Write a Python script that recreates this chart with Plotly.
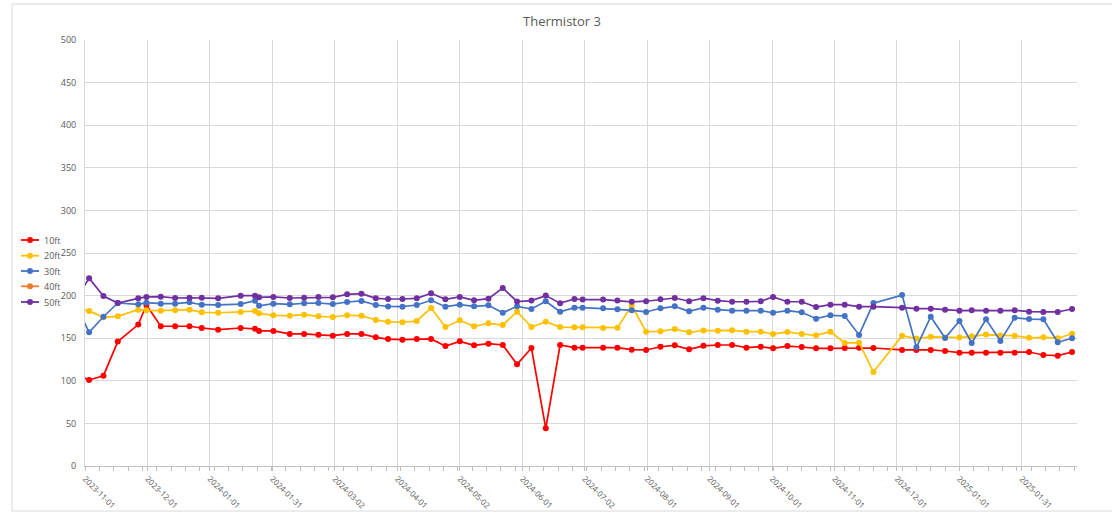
import pandas as pd
import plotly.graph_objects as go

# Sampling dates (first sample falls just before the axis start and is clipped)
dates = [
    "2023-10-27",
    "2023-11-03", "2023-11-10", "2023-11-17", "2023-11-27", "2023-12-01", "2023-12-08",
    "2023-12-15", "2023-12-22", "2023-12-28", "2024-01-05", "2024-01-16", "2024-01-23",
    "2024-01-25", "2024-02-01", "2024-02-09", "2024-02-16", "2024-02-23", "2024-03-01",
    "2024-03-08", "2024-03-15", "2024-03-22", "2024-03-28", "2024-04-04", "2024-04-11",
    "2024-04-18", "2024-04-25", "2024-05-02", "2024-05-09", "2024-05-16", "2024-05-23",
    "2024-05-30", "2024-06-06", "2024-06-13", "2024-06-20", "2024-06-27", "2024-07-01",
    "2024-07-11", "2024-07-18", "2024-07-25", "2024-08-01", "2024-08-08", "2024-08-15",
    "2024-08-22", "2024-08-29", "2024-09-05", "2024-09-12", "2024-09-19", "2024-09-26",
    "2024-10-02", "2024-10-09", "2024-10-16", "2024-10-23", "2024-10-30", "2024-11-06",
    "2024-11-13", "2024-11-20", "2024-12-04", "2024-12-11", "2024-12-18", "2024-12-25",
    "2025-01-01", "2025-01-07", "2025-01-14", "2025-01-21", "2025-01-28", "2025-02-04",
    "2025-02-11", "2025-02-18", "2025-02-25",
]

ft10 = [
    108,
    101, 106, 146, 166, 189, 164, 164, 164, 162, 160, 162, 161,
    158.5, 158.5, 155, 155, 154, 153, 155, 155, 151, 149, 148.3, 149.1,
    149.1, 140.8, 146.3, 141.6, 143.6, 142, 119.3, 138.5, 44.2, 142, 138.9, 138.9,
    138.9, 138.9, 136.5, 136.2, 140, 141.6, 137, 141, 142, 142, 138.9, 140,
    138.1, 140.8, 139.7, 138.1, 138.1, 138.5, 138.9, 138.5, 136.2, 136.2, 136.2, 135,
    133, 133, 133, 133, 133, 133.8, 130.3, 129.5, 133.8,
]

ft20 = [
    185,
    182, 174.5, 175.7, 183.5, 182.7, 182.3, 182.7, 183.5, 180.4, 179.9, 180.8, 181.9,
    179.2, 176.9, 176.4, 177.6, 175.7, 174.9, 176.9, 176.4, 171.4, 169.2, 168.7, 170.2,
    185.4, 163.1, 171, 164, 167.5, 165.5, 181.1, 163.1, 169.4, 163.1, 162.8, 162.8,
    162, 162.3, 188.1, 157.6, 158.1, 160.8, 156.9, 159, 158.8, 159.3, 157.6, 157.6,
    154.9, 157.3, 154.9, 153.4, 157.6, 144.4, 144.7, 110.3, 152.9, 149.6, 151.6, 150.8,
    150.8, 152.2, 154.3, 153.2, 153, 150.4, 151, 150, 155.2,
]

ft30 = [
    192,
    156.9, 175.2, 191.3, 189.8, 191.7, 190.5, 190.5, 192.1, 189.3, 189, 190.1, 194,
    188.1, 190.5, 189.8, 191, 191.3, 190.1, 192.5, 193.7, 189, 187.2, 187, 189,
    194.5, 187, 189.3, 187.4, 188.6, 179.9, 187.4, 184.3, 193.3, 181.1, 185.8, 185.8,
    185.1, 183.9, 182.7, 180.8, 185.1, 187.4, 181.6, 185.8, 183.5, 182.3, 182.3, 182.3,
    179.9, 182.3, 180.4, 172.9, 176.9, 176.1, 153.8, 191.2, 200.6, 139.3, 175.2, 150.2,
    170.2, 144.4, 172.2, 146.7, 174.1, 172.5, 172.2, 145.2, 149.9,
]

ft40 = [None] * len(dates)

ft50 = [
    194,
    220.3, 199.5, 191.3, 196.8, 198.4, 198.7, 197.2, 197.5, 197.5, 196.8, 199.9, 199.9,
    198, 198.4, 197.2, 197.5, 198.4, 198, 201.5, 202.2, 196.8, 196, 196, 196.8,
    202.7, 195.7, 198.4, 194.5, 196.4, 208.9, 193, 194.2, 200, 191.1, 196, 195.3,
    195.3, 194.2, 192.7, 193.4, 195.7, 197.2, 193.4, 197, 194, 192.8, 192.8, 193.3,
    198.4, 192.8, 192.8, 186.6, 189.3, 189.3, 187, 187, 185.8, 184.6, 184.6, 183.5,
    182.3, 182.7, 182.3, 182.3, 182.7, 181.1, 180.8, 180.8, 184.3,
]

series_names = ["10ft", "20ft", "30ft", "40ft", "50ft"]
series_values = [ft10, ft20, ft30, ft40, ft50]
series_colors = ["#FF0000", "#FFC000", "#4472C4", "#ED7D31", "#7030A0"]

tick_labels = [
    "2023-11-01", "2023-12-01", "2024-01-01", "2024-01-31", "2024-03-02", "2024-04-01",
    "2024-05-02", "2024-06-01", "2024-07-02", "2024-08-01", "2024-09-01", "2024-10-01",
    "2024-11-01", "2024-12-01", "2025-01-01", "2025-01-31",
]

axis_start = pd.Timestamp("2023-11-01")
axis_end = pd.Timestamp("2025-02-27 10:00")
# major unit of 30.5 days, labelled with the calendar day
tick_positions = [axis_start + pd.Timedelta(days=30.5 * k) for k in range(len(tick_labels))]

x = pd.to_datetime(dates)

fig = go.Figure()
for name, vals, col in zip(series_names, series_values, series_colors):
    fig.add_trace(go.Scatter(
        x=x, y=vals, name=name, mode="lines+markers",
        line=dict(color=col, width=1.7),
        marker=dict(color=col, size=6),
        showlegend=False, cliponaxis=True,
    ))

# plot area in pixels: left 85, right 1077, top 40, bottom 466
L, R, T, B = 85, 1077, 40, 466
W, H = R - L, B - T


def px_x(p):
    return (p - L) / W


def px_y(p):
    return (B - p) / H


shapes = []
annotations = []

# legend on the left side
legend_y = [240, 255.7, 271, 286.3, 302]
for name, col, ly in zip(series_names, series_colors, legend_y):
    shapes.append(dict(type="line", xref="paper", yref="paper",
                       x0=px_x(21), x1=px_x(39), y0=px_y(ly), y1=px_y(ly),
                       line=dict(color=col, width=1.8)))
    shapes.append(dict(type="circle", xref="paper", yref="paper",
                       xsizemode="pixel", ysizemode="pixel",
                       xanchor=px_x(30), yanchor=px_y(ly),
                       x0=-3, x1=3, y0=-3, y1=3,
                       fillcolor=col, line=dict(color=col, width=0)))
    annotations.append(dict(text=name, xref="paper", yref="paper",
                            x=px_x(41.5), y=px_y(ly), xanchor="left", yanchor="middle",
                            showarrow=False,
                            font=dict(size=9, color="#595959", family="Open Sans")))

# chart area border
shapes.append(dict(type="rect", xref="paper", yref="paper",
                   x0=px_x(12), x1=px_x(1125), y0=px_y(511), y1=px_y(4),
                   line=dict(color="#D9D9D9", width=1), layer="below"))

fig.update_layout(
    width=1112, height=513,
    margin=dict(l=L, r=1112 - R, t=T, b=513 - B, autoexpand=False),
    paper_bgcolor="white", plot_bgcolor="white",
    font=dict(family="Open Sans", color="#595959", size=9),
    title=dict(text="Thermistor 3", xref="container", yref="container",
               x=562 / 1112, y=1 - 21 / 513, xanchor="center", yanchor="middle",
               font=dict(size=13, color="#595959", family="Open Sans")),
    shapes=shapes, annotations=annotations,
    showlegend=False,
)

fig.update_xaxes(
    type="date", range=[axis_start, axis_end], automargin=False,
    tickmode="array", tickvals=tick_positions, ticktext=tick_labels,
    tickangle=45, tickfont=dict(size=8, color="#595959"),
    ticks="outside", ticklen=4, tickcolor="#BFBFBF",
    showgrid=True, gridcolor="#D9D9D9", gridwidth=1,
    showline=True, linecolor="#BFBFBF", linewidth=1,
    minor=dict(tickmode="linear", tick0="2023-11-01", dtick=7 * 86400000,
               ticks="outside", ticklen=4, tickcolor="#BFBFBF", showgrid=False),
    zeroline=False,
)

fig.update_yaxes(
    range=[0, 500], dtick=50, tick0=0, automargin=False,
    tickfont=dict(size=9, color="#595959"),
    showgrid=True, gridcolor="#D9D9D9", gridwidth=1,
    showline=True, linecolor="#D9D9D9", linewidth=1,
    ticks="", ticklabelstandoff=6,
    zeroline=False,
)

fig.write_html("out.html")
